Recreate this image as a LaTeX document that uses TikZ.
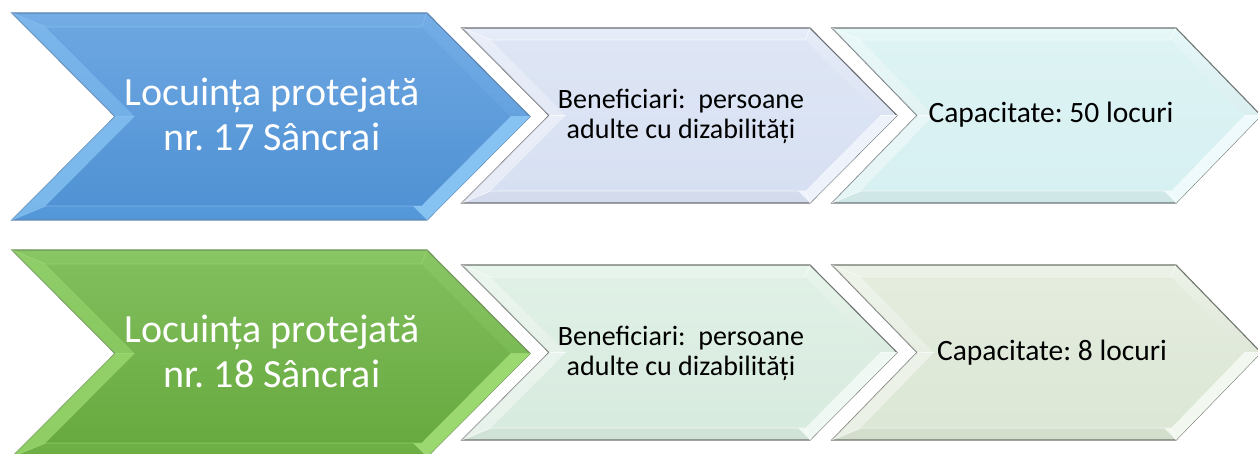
\documentclass[tikz,border=0pt]{standalone}
\usepackage{fontspec}
\setmainfont{Carlito}
\usetikzlibrary{calc}
\tikzset{
  outerline/.style={draw=#1, line width=1.1pt},
  bigtxt/.style={text=white, font=\fontsize{40}{45}\selectfont\frenchspacing, align=center},
  smalltxt/.style={text=black, font=\fontsize{28}{30}\selectfont\frenchspacing, align=center},
  captxt/.style={text=black, font=\fontsize{29.5}{30}\selectfont\frenchspacing, anchor=base},
}
% #1 x0, #2 x1, #3 depth, #4 ytop, #5 ybottom, #6 bevel, #7 colour prefix
\newcommand{\chevshape}[7]{%
  \pgfmathsetmacro{\ym}{(#4+#5)/2}%
  \pgfmathsetmacro{\sh}{#6*1.41}%
  \path[outerline=#7Edge, top color=#7BevT, bottom color=#7BevB]
    (#1,#4) -- (#2,#4) -- ({#2+#3},\ym) -- (#2,#5) -- (#1,#5) -- ({#1+#3},\ym) -- cycle;
  \fill[#7Hi]
    ({#2+#3},\ym) -- (#2,#5) -- ({#2-#6},{#5-#6}) -- ({#2+#3-\sh},\ym) -- cycle;
  \fill[#7Hi, opacity=0.75]
    ({#1+#3},\ym) -- (#1,#5) -- ({#1+#6+\sh},{#5-#6}) -- ({#1+#3+\sh},\ym) -- cycle;
  \fill[#7Hi, opacity=0.45]
    (#1,#4) -- ({#1+#3},\ym) -- ({#1+#3+\sh},\ym) -- ({#1+#6+\sh},{#4+#6}) -- cycle;
  \path[top color=#7T, bottom color=#7B]
    ({#1+#6+\sh},{#4+#6}) -- ({#2+#6-\sh},{#4+#6}) -- ({#2+#3-\sh},\ym)
    -- ({#2+#6-\sh},{#5-#6}) -- ({#1+#6+\sh},{#5-#6}) -- ({#1+#3+\sh},\ym) -- cycle;
  \draw[#7Line, line width=0.6pt, opacity=0.7]
    (#1,#4) -- ({#1+#6+\sh},{#4+#6}) -- ({#2+#6-\sh},{#4+#6}) -- (#2,#4)
    (#2,#5) -- ({#2+#6-\sh},{#5-#6}) -- ({#1+#6+\sh},{#5-#6}) -- (#1,#5)
    ({#1+#3},\ym) -- ({#1+#3+\sh},\ym) ({#2+#3},\ym) -- ({#2+#3-\sh},\ym);
}
% blue
\definecolor{blueT}{HTML}{6CA6E1}
\definecolor{blueB}{HTML}{5092D4}
\definecolor{blueBevT}{HTML}{74ADE6}
\definecolor{blueBevB}{HTML}{5497D8}
\definecolor{blueHi}{HTML}{86C2F2}
\definecolor{blueEdge}{HTML}{5C86B0}
\definecolor{blueLine}{HTML}{8CC4F0}
% green
\definecolor{greenT}{HTML}{80BE5C}
\definecolor{greenB}{HTML}{68A93F}
\definecolor{greenBevT}{HTML}{88C664}
\definecolor{greenBevB}{HTML}{6DAE44}
\definecolor{greenHi}{HTML}{9BD870}
\definecolor{greenEdge}{HTML}{6E9458}
\definecolor{greenLine}{HTML}{A2DA7C}
% lavender
\definecolor{lavT}{HTML}{DEE6F5}
\definecolor{lavB}{HTML}{D7E0F2}
\definecolor{lavBevT}{HTML}{E6ECF8}
\definecolor{lavBevB}{HTML}{D2DAEC}
\definecolor{lavHi}{HTML}{EEF2FB}
\definecolor{lavEdge}{HTML}{6E6E74}
\definecolor{lavLine}{HTML}{FFFFFF}
% cyan
\definecolor{cyaT}{HTML}{DDF3F4}
\definecolor{cyaB}{HTML}{D7F0F1}
\definecolor{cyaBevT}{HTML}{E6F7F8}
\definecolor{cyaBevB}{HTML}{CFE6E7}
\definecolor{cyaHi}{HTML}{EEFAFB}
\definecolor{cyaEdge}{HTML}{6E7474}
\definecolor{cyaLine}{HTML}{FFFFFF}
% mint
\definecolor{minT}{HTML}{E0F0E6}
\definecolor{minB}{HTML}{D8EBDF}
\definecolor{minBevT}{HTML}{E8F5EC}
\definecolor{minBevB}{HTML}{D0E2D6}
\definecolor{minHi}{HTML}{F0F8F3}
\definecolor{minEdge}{HTML}{6E7470}
\definecolor{minLine}{HTML}{FFFFFF}
% sage
\definecolor{sagT}{HTML}{E4ECDE}
\definecolor{sagB}{HTML}{DCE7D5}
\definecolor{sagBevT}{HTML}{ECF2E7}
\definecolor{sagBevB}{HTML}{D3DDCC}
\definecolor{sagHi}{HTML}{F2F7EF}
\definecolor{sagEdge}{HTML}{70746C}
\definecolor{sagLine}{HTML}{FFFFFF}
\begin{document}
\begin{tikzpicture}[x=1pt,y=-1pt]
\useasboundingbox (0,0) rectangle (1258,454);
% row 1
\chevshape{12}{427}{103}{13}{220}{14}{blue}
\chevshape{462}{810}{87}{28}{203}{12}{lav}
\chevshape{832}{1176}{85}{28}{203}{12}{cya}
\node[bigtxt] (t1a) at (272,114) {Locuința protejată\\nr. 17 Sâncrai};
\node[smalltxt] (t1b) at (681,116) {Beneficiari:\ \ persoane\\adulte cu dizabilități};
\node[captxt] (t1c) at (1051,123) {Capacitate: 50 locuri};
% row 2
\chevshape{12}{427}{103}{250}{457}{14}{green}
\chevshape{462}{810}{87}{265}{440}{12}{min}
\chevshape{832}{1176}{85}{265}{440}{12}{sag}
\node[bigtxt] (t2a) at (272,351) {Locuința protejată\\nr. 18 Sâncrai};
\node[smalltxt] (t2b) at (681,353) {Beneficiari:\ \ persoane\\adulte cu dizabilități};
\node[captxt] (t2c) at (1052,360) {Capacitate: 8 locuri};
\end{tikzpicture}
\end{document}
